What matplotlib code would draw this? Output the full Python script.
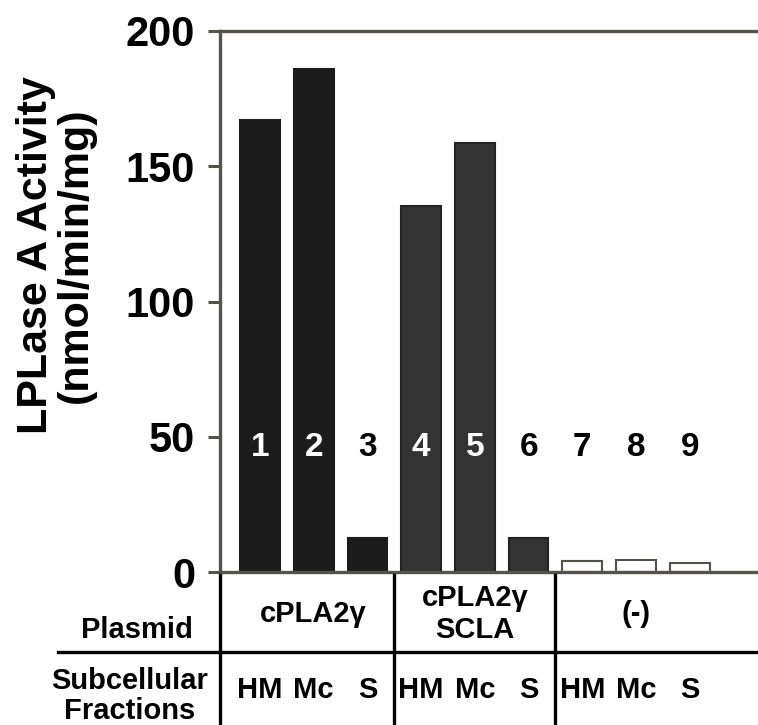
import numpy as np
import matplotlib.pyplot as plt
import matplotlib.transforms as mtransforms
from matplotlib.lines import Line2D

plt.rcParams['font.family'] = ['Liberation Sans', 'DejaVu Sans']
plt.rcParams['font.weight'] = 'bold'

# lane values
plasmids = ['cPLA2\u03b3', 'cPLA2\u03b3\nSCLA', '(-)']
fractions = ['HM', 'Mc', 'S']
lane_labels = ['1', '2', '3', '4', '5', '6', '7', '8', '9']
activity = [167, 186, 12.5, 135.4, 158.5, 12.5, 4.2, 4.5, 3.2]

face_colors = ['#1c1c1c'] * 3 + ['#333333'] * 3 + ['white'] * 3
edge_colors = ['#1c1c1c'] * 3 + ['#222222'] * 3 + ['#55524a'] * 3
label_colors = ['white', 'white', 'black', 'white', 'white', 'black', 'black', 'black', 'black']

spine_col = '#55524a'

fig = plt.figure(figsize=(7.58, 7.25), dpi=100)
W, H = 758, 725
ax = fig.add_axes([220 / W, 1 - 572 / H, 538 / W, (572 - 31) / H])

x = np.arange(len(activity))
ax.bar(x, activity, width=0.74, color=face_colors, edgecolor=edge_colors,
       linewidth=1.5, zorder=2)

for xi, lab, c in zip(x, lane_labels, label_colors):
    ax.text(xi, 46, lab, ha='center', va='center', color=c,
            fontsize=24, fontweight='bold', zorder=3)

ax.set_xlim(-0.744, 9.27)
ax.set_ylim(0, 200)
ax.set_yticks([0, 50, 100, 150, 200])
ax.set_xticks([])
ax.tick_params(axis='y', length=9, width=2.2, color=spine_col, pad=9,
               labelsize=30)
for lbl in ax.get_yticklabels():
    lbl.set_fontweight('bold')
for side in ['left', 'top', 'bottom']:
    ax.spines[side].set_color(spine_col)
    ax.spines[side].set_linewidth(2.4)
ax.spines['right'].set_visible(False)

fig.text(56 / W, 1 - 255 / H, 'LPLase A Activity\n(nmol/min/mg)',
         rotation=90, ha='center', va='center', fontsize=31,
         fontweight='bold', linespacing=1.0, multialignment='center')

# table under the axis
trans = mtransforms.blended_transform_factory(ax.transData, fig.transFigure)
y_top = 1 - 575 / H
y_mid = 1 - 652 / H
for xv in [-0.744, 2.5, 5.5]:
    fig.add_artist(Line2D([xv, xv], [y_top, 0], transform=trans,
                          color='black', linewidth=2.4))
fig.add_artist(Line2D([58 / W, 1], [y_mid, y_mid], transform=fig.transFigure,
                      color='black', linewidth=2.4))

for i, p in enumerate(plasmids):
    fig.text(3 * i + 1, 1 - 614 / H, p, transform=trans, ha='center',
             va='center', fontsize=21, fontweight='bold', linespacing=1.15)

for i, f in enumerate(fractions * 3):
    fig.text(i, 1 - 690 / H, f, transform=trans, ha='center', va='center',
             fontsize=21, fontweight='bold')

fig.text(137 / W, 1 - 630 / H, 'Plasmid', ha='center', va='center',
         fontsize=21, fontweight='bold')
fig.text(130 / W, 1 - 696 / H, 'Subcellular\nFractions', ha='center',
         va='center', fontsize=21, fontweight='bold', linespacing=1.05)

fig.savefig('out.png', dpi=100)
